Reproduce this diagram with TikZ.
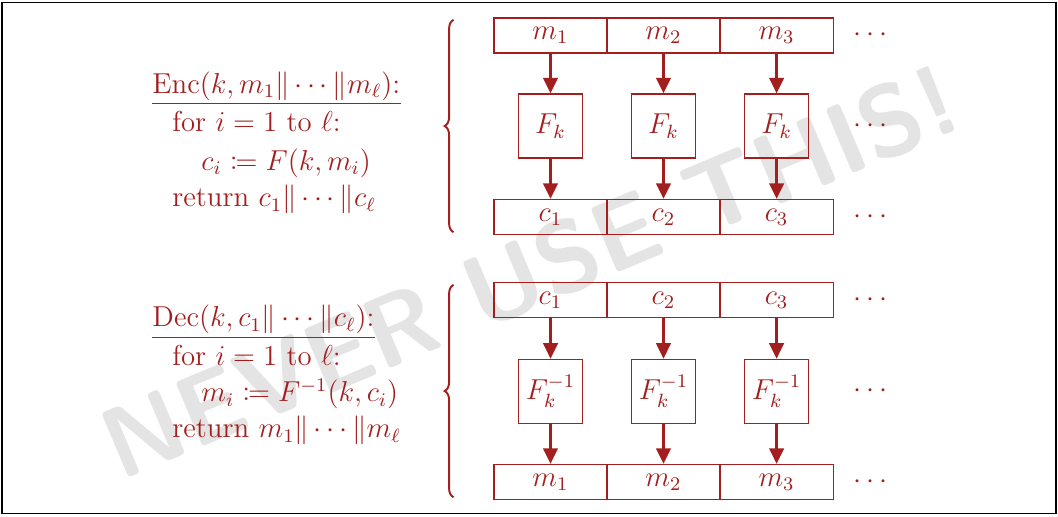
\documentclass[tikz,border=0pt]{standalone}
\usepackage{xcolor}
\usepackage{mathtools}
\usepackage{tikz}
\usetikzlibrary{arrows.meta,decorations.pathreplacing}
\definecolor{ecbred}{HTML}{A31F1F}
\definecolor{markgray}{HTML}{E4E4E4}

\begin{document}
\begin{tikzpicture}[
  blk/.style={draw=ecbred, line width=0.5pt, minimum width=1.655cm, minimum height=0.512cm, inner sep=0pt, text=ecbred, font=\large},
  prf/.style={draw=ecbred, line width=0.5pt, minimum size=0.937cm, inner sep=0pt, text=ecbred, font=\large},
  flow/.style={ecbred, line width=1.25pt, -{Triangle[length=6.5pt,width=6pt]}},
  algo/.style={anchor=base west, inner sep=0pt, text=ecbred, font=\large},
  more/.style={text=ecbred, font=\large},
]
\useasboundingbox (0,0) rectangle (15.49,-7.555);
\draw[line width=0.5pt] (0.03,-0.04) rectangle (15.46,-7.52);
\node[rotate=22.8, text=markgray, font=\sffamily\bfseries\fontsize{42}{42}\selectfont] (mark) at (7.76,-3.98) {NEVER USE THIS!};

% encryption
\node[algo] (enc) at (2.225,-1.362) {Enc$(k, m_1\|\cdots\|m_\ell)$:};
\draw[ecbred, line width=0.6pt] ([yshift=-4.3pt]enc.base west) -- ([yshift=-4.3pt]enc.base east);
\node[algo] (enc1) at (2.518,-1.932) {for $i = 1$ to $\ell$:};
\node[algo] (enc2) at (2.943,-2.489) {$c_i \coloneqq F(k, m_i)$};
\node[algo] (enc3) at (2.518,-3.030) {return $c_1\|\cdots\|c_\ell$};
\draw[ecbred, line width=0.8pt, decorate, decoration={brace, amplitude=0.13cm}] (6.64,-3.40) -- (6.64,-0.29);
\foreach \i/\x in {1/8.06, 2/9.714, 3/11.37} {
  \node[blk] (m\i) at (\x,-0.52) {$m_\i$};
  \node[prf] (f\i) at (\x,-1.845) {$F_k$};
  \node[blk] (c\i) at (\x,-3.177) {$c_\i$};
  \draw[flow] (m\i) -- (f\i);
  \draw[flow] (f\i) -- (c\i);
}
\foreach \n/\y in {1/-0.52, 2/-1.845, 3/-3.177}
  \node[more] (edots\n) at (12.78,\y) {$\cdots$};

% decryption
\node[algo] (dec) at (2.225,-4.787) {Dec$(k, c_1\|\cdots\|c_\ell)$:};
\draw[ecbred, line width=0.6pt] ([yshift=-4.3pt]dec.base west) -- ([yshift=-4.3pt]dec.base east);
\node[algo] (dec1) at (2.518,-5.344) {for $i = 1$ to $\ell$:};
\node[algo] (dec2) at (2.943,-5.885) {$m_i \coloneqq F^{-1}(k, c_i)$};
\node[algo] (dec3) at (2.518,-6.412) {return $m_1\|\cdots\|m_\ell$};
\draw[ecbred, line width=0.8pt, decorate, decoration={brace, amplitude=0.13cm}] (6.64,-7.28) -- (6.64,-4.17);
\foreach \i/\x in {1/8.06, 2/9.714, 3/11.37} {
  \node[blk] (dc\i) at (\x,-4.392) {$c_\i$};
  \node[prf] (g\i) at (\x,-5.73) {$F_k^{-1}$};
  \node[blk] (dm\i) at (\x,-7.057) {$m_\i$};
  \draw[flow] (dc\i) -- (g\i);
  \draw[flow] (g\i) -- (dm\i);
}
\foreach \n/\y in {1/-4.392, 2/-5.73, 3/-7.057}
  \node[more] (ddots\n) at (12.78,\y) {$\cdots$};
\end{tikzpicture}
\end{document}
